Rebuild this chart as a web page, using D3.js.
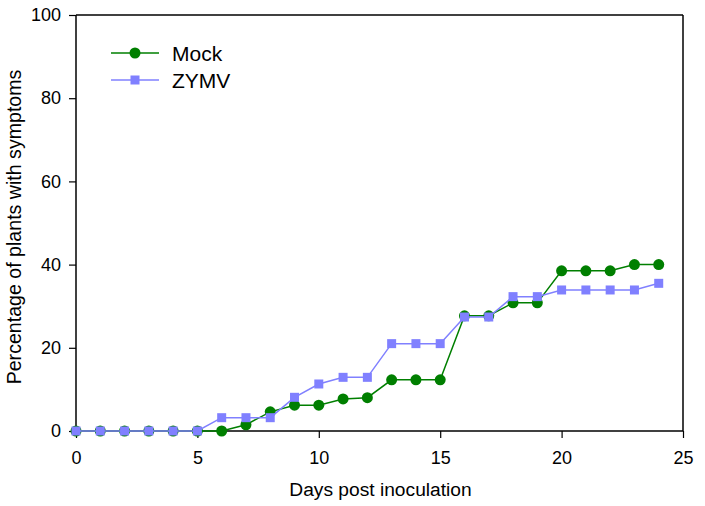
<!DOCTYPE html>
<html><head><meta charset="utf-8">
<script src="https://cdn.jsdelivr.net/npm/d3@7"></script>
<style>body{margin:0;background:#fff}svg{display:block}text{font-family:"Liberation Sans",Arial,sans-serif;fill:#000}</style>
</head><body><svg id="c" width="705" height="506"></svg>
<script>
const days = [0,1,2,3,4,5,6,7,8,9,10,11,12,13,14,15,16,17,18,19,20,21,22,23,24];
const mock = [0,0,0,0,0,0,0,1.5,4.6,6.2,6.2,7.7,8.0,12.3,12.3,12.3,27.7,27.7,30.8,30.8,38.5,38.5,38.5,40.0,40.0];
const zymv = [0,0,0,0,0,0,3.2,3.2,3.2,8.1,11.3,12.9,12.9,21.0,21.0,21.0,27.4,27.4,32.3,32.3,33.9,33.9,33.9,33.9,35.5];
const xTicks = [0,5,10,15,20,25];
const yTicks = [0,20,40,60,80,100];
const seriesNames = ["Mock","ZYMV"];
const colors = ["#007f00","#8080ff"];

const svg = d3.select("#c");
const m = {l:76, r:22, t:15, b:75};
const W = 705, H = 506;
const x = d3.scaleLinear().domain([0,25]).range([m.l, W-m.r]);
const y = d3.scaleLinear().domain([0,100]).range([H-m.b, m.t]);

// frame
const fr = svg.append("g").attr("stroke","#000").attr("stroke-width",1.5);
fr.append("line").attr("x1",x(0)).attr("x2",x(25)).attr("y1",y(100)).attr("y2",y(100));
fr.append("line").attr("x1",x(25)).attr("x2",x(25)).attr("y1",y(0)).attr("y2",y(100));

const xa = svg.append("g").attr("transform",`translate(0,${y(0)})`)
  .call(d3.axisBottom(x).tickValues(xTicks).tickSize(7).tickPadding(13));
const ya = svg.append("g").attr("transform",`translate(${x(0)},0)`)
  .call(d3.axisLeft(y).tickValues(yTicks).tickSize(7).tickPadding(8));
[xa,ya].forEach(a=>{
  a.select(".domain").attr("stroke","#000").attr("stroke-width",1.5);
  a.selectAll(".tick line").attr("stroke","#000").attr("stroke-width",1.2);
  a.selectAll(".tick text").attr("font-size",18).attr("font-family","Liberation Sans, Arial, sans-serif").attr("fill","#000");
});
ya.select(".domain").attr("d",`M0,${y(0)}V${y(100)}`);
xa.select(".domain").attr("d",`M${x(0)},0H${x(25)}`);

svg.append("text").attr("x",380.5).attr("y",496).attr("text-anchor","middle")
  .attr("font-size",19.2).text("Days post inoculation");
svg.append("text").attr("transform",`translate(21,227) rotate(-90)`)
  .attr("text-anchor","middle").attr("font-size",19.6).text("Percentage of plants with symptoms");

const line = d3.line().x((d,i)=>x(days[i])).y(d=>y(d));

// Mock
svg.append("path").datum(mock).attr("d",line).attr("fill","none").attr("stroke",colors[0]).attr("stroke-width",1.5);
svg.append("g").selectAll("circle").data(mock).join("circle")
  .attr("cx",(d,i)=>x(days[i])).attr("cy",d=>y(d)).attr("r",5.5).attr("fill",colors[0]);
// ZYMV
const s = 9;
svg.append("path").datum(zymv).attr("d",line).attr("fill","none").attr("stroke",colors[1]).attr("stroke-width",1.5);
svg.append("g").selectAll("rect").data(zymv).join("rect")
  .attr("x",(d,i)=>x(days[i])-s/2).attr("y",d=>y(d)-s/2).attr("width",s).attr("height",s).attr("fill",colors[1]);

// legend
const lg = svg.append("g");
seriesNames.forEach((n,i)=>{
  const yy = 53 + i*27;
  lg.append("line").attr("x1",111).attr("x2",159).attr("y1",yy).attr("y2",yy).attr("stroke",colors[i]).attr("stroke-width",1.5);
  if(i===0) lg.append("circle").attr("cx",135).attr("cy",yy).attr("r",5.5).attr("fill",colors[i]);
  else lg.append("rect").attr("x",135-s/2).attr("y",yy-s/2).attr("width",s).attr("height",s).attr("fill",colors[i]);
  lg.append("text").attr("x",172).attr("y",yy+7.5).attr("font-size",21).text(n);
});
</script></body></html>
